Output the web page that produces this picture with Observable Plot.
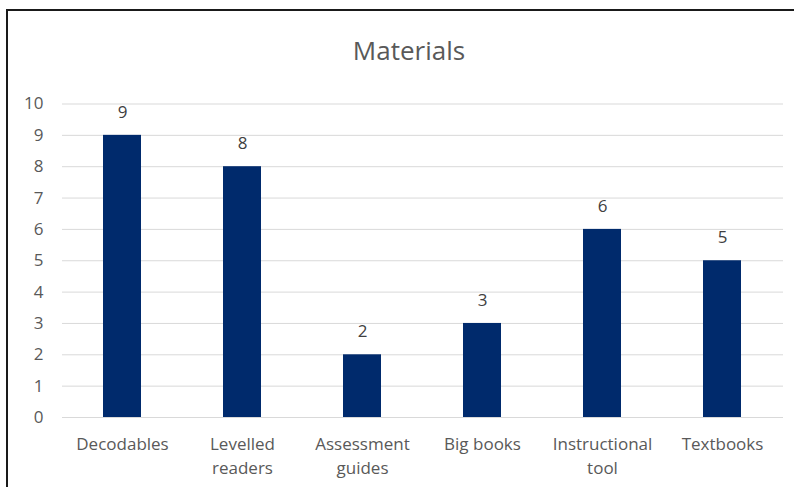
<!DOCTYPE html>
<html>
<head>
<meta charset="utf-8">
<script src="https://cdn.jsdelivr.net/npm/d3@7"></script>
<script src="https://cdn.jsdelivr.net/npm/@observablehq/plot@0.6"></script>
<style>
  html, body { margin: 0; padding: 0; background: #fff; }
  #frame { position: relative; width: 794px; height: 487px; overflow: hidden; background: #fff; }
  #edge { position: absolute; left: 6px; top: 9px; width: 900px; height: 600px;
          border-left: 2px solid #1a1a1a; border-top: 2px solid #1a1a1a; }
  #title { position: absolute; left: 309px; width: 200px; top: 32px; text-align: center;
           font-family: "Open Sans", sans-serif; font-size: 26px; color: #595959; line-height: 36px; }
  #chart { position: absolute; left: 0; top: 80px; }
</style>
</head>
<body>
<div id="frame">
  <div id="edge"></div>
  <div id="title">Materials</div>
  <div id="chart"></div>
</div>
<script>
// Number of materials in each category
const categories = ["Decodables", "Levelled\nreaders", "Assessment\nguides", "Big books", "Instructional\ntool", "Textbooks"];
const counts = [9, 8, 2, 3, 6, 5];
const yTicks = [0, 1, 2, 3, 4, 5, 6, 7, 8, 9, 10];

const rows = categories.map((c, i) => ({category: c, count: counts[i]}));

const chart = Plot.plot({
  width: 794,
  height: 407,
  marginTop: 23.5,
  marginBottom: 70,
  marginLeft: 62,
  marginRight: 11,
  style: {fontFamily: "Open Sans, sans-serif", fontSize: "17px", color: "#595959", background: "transparent"},
  x: {domain: categories, paddingInner: 0.68, paddingOuter: 0.34, label: null},
  y: {domain: [0, 10], label: null},
  marks: [
    Plot.gridY(yTicks, {stroke: "#d9d9d9", strokeOpacity: 1, strokeWidth: 1}),
    Plot.axisY(yTicks, {tickSize: 0, tickPadding: 19, label: null, fill: "#595959", fontSize: 17}),
    Plot.axisX({tickSize: 0, tickPadding: 15, label: null, lineHeight: 1.42, fill: "#595959", fontSize: 17}),
    Plot.barY(rows, {x: "category", y: "count", fill: "#002A6C"}),
    Plot.ruleY([0], {stroke: "#d9d9d9", strokeWidth: 1}),
    Plot.text(rows, {x: "category", y: "count", text: d => String(d.count), dy: -23,
                     fill: "#404040", fontSize: 17})
  ]
});
document.getElementById("chart").appendChild(chart);
</script>
</body>
</html>
